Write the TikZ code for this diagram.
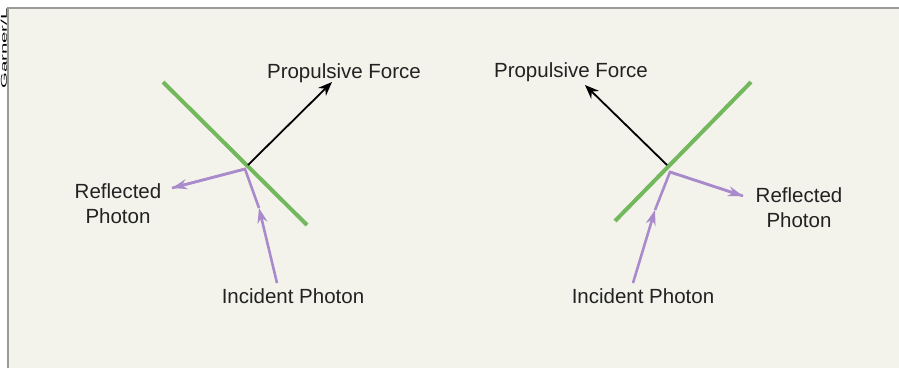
\documentclass[tikz,border=0pt]{standalone}
\usepackage{fontspec}
\setmainfont{Liberation Sans}
\usetikzlibrary{arrows.meta}
\definecolor{paper}{HTML}{F3F3EC}
\definecolor{frameg}{HTML}{9A9A96}
\definecolor{sailg}{HTML}{74B85E}
\definecolor{photon}{HTML}{A98BCB}
\definecolor{ink}{HTML}{222222}
\tikzset{
  lbl/.style={font=\fontsize{20.5}{25}\selectfont, text=ink, inner sep=0pt, align=center},
  sail/.style={draw=sailg, line width=4pt},
  force/.style={draw=black, line width=1.8pt, -{Stealth[length=14pt,width=11pt]}},
  ray/.style={draw=photon, line width=2.6pt, -{Stealth[length=15pt,width=10pt]}},
  rayline/.style={draw=photon, line width=2.6pt},
}
\begin{document}
\begin{tikzpicture}[x=1pt,y=-1pt]
\useasboundingbox (0,0) rectangle (899,368);
\fill[white] (0,0) rectangle (899,368);
\fill[paper] (8,8) rectangle (899,368);
\draw[frameg, line width=2pt] (8,368) -- (8,8) -- (899,8);
% side credit in the narrow margin
\node[font=\fontsize{8.5}{8.5}\selectfont, text=black, rotate=90, inner sep=0pt, anchor=base] (credit) at (6.8,48.5) {\scalebox{2.4}[1]{Garner/L}};

% ---------- left sail ----------
\coordinate (gL1) at (163,82);
\coordinate (gL2) at (307,225);
\coordinate (hitL) at (245,169);
\coordinate (fL0) at (248,165);
\coordinate (fL1) at (332,82);
\coordinate (iL0) at (277,283);
\coordinate (iLm) at (259,208);
\coordinate (rL1) at (172,188);
\node[lbl, anchor=base] (propL) at (344,78) {Propulsive Force};
\node[lbl, anchor=base] (reflL) at (118,223) {Reflected\\Photon};
\node[lbl, anchor=base] (incL) at (293,303) {Incident Photon};
\draw[sail] (gL1) -- (gL2);
\draw[force] (fL0) -- (fL1);
\draw[ray] (iL0) -- (iLm);
\draw[rayline, line join=miter] (iLm) -- (hitL) -- (rL1);
\draw[ray] (hitL) -- (rL1);

% ---------- right sail ----------
\coordinate (gR1) at (615,221);
\coordinate (gR2) at (751,82);
\coordinate (hitR) at (670,172);
\coordinate (fR0) at (667,165);
\coordinate (fR1) at (585,85);
\coordinate (iR0) at (633,283);
\coordinate (iRm) at (655,210);
\coordinate (rR1) at (743,196);
\node[lbl, anchor=base] (propR) at (571,77) {Propulsive Force};
\node[lbl, anchor=base] (reflR) at (799,227) {Reflected\\Photon};
\node[lbl, anchor=base] (incR) at (643,303) {Incident Photon};
\draw[sail] (gR1) -- (gR2);
\draw[force] (fR0) -- (fR1);
\draw[ray] (iR0) -- (iRm);
\draw[rayline, line join=miter] (iRm) -- (hitR) -- (rR1);
\draw[ray] (hitR) -- (rR1);
\end{tikzpicture}
\end{document}
